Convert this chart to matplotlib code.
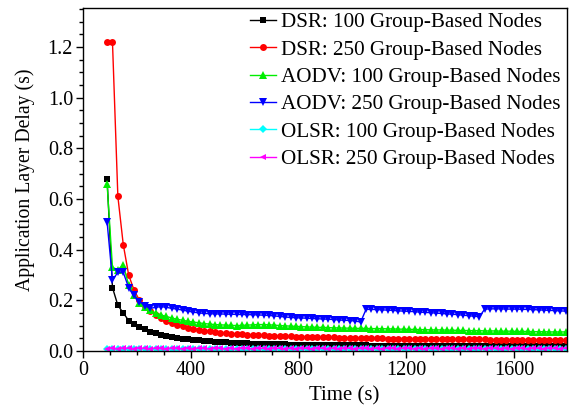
import numpy as np
import matplotlib
matplotlib.use("Agg")
import matplotlib.pyplot as plt
from matplotlib.ticker import MultipleLocator, FormatStrFormatter

plt.rcParams['font.family'] = ['Liberation Serif', 'DejaVu Serif']

# sample times (s)
time_s = np.arange(90, 1800, 20)

dsr_100 = [0.68, 0.25, 0.18, 0.15, 0.12, 0.105, 0.095, 0.085, 0.076, 0.069,
           0.063, 0.058, 0.054, 0.051, 0.048, 0.046, 0.044, 0.042, 0.040, 0.038,
           0.036, 0.035, 0.034, 0.033, 0.032, 0.031, 0.030, 0.029, 0.029, 0.028,
           0.027, 0.027, 0.026, 0.026, 0.025, 0.025, 0.025, 0.024, 0.024, 0.024,
           0.023, 0.023, 0.023, 0.023, 0.022, 0.022, 0.022, 0.022, 0.022, 0.021,
           0.021, 0.021, 0.021, 0.021, 0.021, 0.020, 0.020, 0.020, 0.020, 0.020,
           0.020, 0.020, 0.020, 0.019, 0.019, 0.019, 0.019, 0.019, 0.019, 0.019,
           0.019, 0.019, 0.019, 0.018, 0.018, 0.018, 0.018, 0.018, 0.018, 0.018,
           0.018, 0.018, 0.018, 0.018, 0.018, 0.018]

dsr_250 = [1.22, 1.22, 0.61, 0.42, 0.30, 0.24, 0.20, 0.176, 0.157, 0.142,
           0.130, 0.119, 0.111, 0.104, 0.098, 0.092, 0.088, 0.084, 0.080, 0.077,
           0.074, 0.072, 0.070, 0.068, 0.067, 0.065, 0.064, 0.063, 0.062, 0.061,
           0.060, 0.059, 0.058, 0.058, 0.057, 0.056, 0.056, 0.055, 0.055, 0.054,
           0.054, 0.053, 0.053, 0.052, 0.052, 0.052, 0.051, 0.051, 0.051, 0.050,
           0.050, 0.050, 0.049, 0.049, 0.049, 0.049, 0.048, 0.048, 0.048, 0.048,
           0.047, 0.047, 0.047, 0.047, 0.047, 0.046, 0.046, 0.046, 0.046, 0.046,
           0.046, 0.045, 0.045, 0.045, 0.045, 0.045, 0.045, 0.044, 0.044, 0.044,
           0.044, 0.044, 0.044, 0.044, 0.043, 0.043]

aodv_100 = [0.66, 0.33, 0.32, 0.34, 0.26, 0.22, 0.19, 0.172, 0.160, 0.150,
            0.142, 0.136, 0.130, 0.125, 0.121, 0.117, 0.114, 0.111, 0.108, 0.106,
            0.104, 0.103, 0.102, 0.101, 0.100, 0.101, 0.102, 0.103, 0.104, 0.104,
            0.103, 0.102, 0.100, 0.099, 0.098, 0.097, 0.096, 0.095, 0.094, 0.093,
            0.093, 0.092, 0.091, 0.091, 0.090, 0.090, 0.089, 0.089, 0.089, 0.088,
            0.088, 0.088, 0.087, 0.087, 0.086, 0.086, 0.085, 0.085, 0.084, 0.084,
            0.083, 0.083, 0.083, 0.082, 0.082, 0.081, 0.081, 0.080, 0.080, 0.080,
            0.079, 0.079, 0.079, 0.078, 0.078, 0.078, 0.077, 0.077, 0.077, 0.076,
            0.076, 0.076, 0.075, 0.075, 0.075, 0.075]

aodv_250 = [0.51, 0.28, 0.31, 0.31, 0.25, 0.22, 0.195, 0.178, 0.168, 0.172,
            0.175, 0.172, 0.168, 0.165, 0.161, 0.157, 0.153, 0.150, 0.148, 0.147,
            0.146, 0.146, 0.145, 0.145, 0.144, 0.144, 0.143, 0.143, 0.142, 0.141,
            0.140, 0.138, 0.136, 0.134, 0.132, 0.131, 0.130, 0.129, 0.128, 0.127,
            0.126, 0.125, 0.124, 0.122, 0.121, 0.120, 0.118, 0.114, 0.164, 0.164,
            0.163, 0.162, 0.161, 0.160, 0.158, 0.157, 0.156, 0.155, 0.153, 0.152,
            0.151, 0.149, 0.148, 0.146, 0.145, 0.143, 0.141, 0.139, 0.137, 0.135,
            0.165, 0.166, 0.166, 0.166, 0.165, 0.165, 0.165, 0.164, 0.164, 0.163,
            0.162, 0.161, 0.160, 0.159, 0.158, 0.157]

olsr_100 = [0.006, 0.007, 0.006, 0.007, 0.007, 0.006, 0.007, 0.006, 0.007, 0.007,
            0.006, 0.007, 0.007, 0.006, 0.007, 0.007, 0.006, 0.007, 0.007, 0.006,
            0.007, 0.006, 0.007, 0.007, 0.006, 0.007, 0.007, 0.006, 0.007, 0.006,
            0.007, 0.007, 0.006, 0.007, 0.007, 0.006, 0.007, 0.006, 0.007, 0.007,
            0.006, 0.007, 0.007, 0.006, 0.007, 0.007, 0.006, 0.007, 0.006, 0.007,
            0.007, 0.006, 0.007, 0.007, 0.006, 0.007, 0.006, 0.007, 0.007, 0.006,
            0.007, 0.007, 0.006, 0.007, 0.006, 0.007, 0.007, 0.006, 0.007, 0.007,
            0.006, 0.007, 0.006, 0.007, 0.007, 0.006, 0.007, 0.007, 0.006, 0.007,
            0.006, 0.007, 0.007, 0.006, 0.007, 0.007]

olsr_250 = [0.009, 0.010, 0.009, 0.010, 0.010, 0.009, 0.010, 0.010, 0.009, 0.010,
            0.010, 0.009, 0.010, 0.010, 0.009, 0.010, 0.009, 0.010, 0.010, 0.009,
            0.010, 0.010, 0.009, 0.010, 0.009, 0.010, 0.010, 0.009, 0.010, 0.010,
            0.009, 0.010, 0.010, 0.009, 0.010, 0.009, 0.010, 0.010, 0.009, 0.010,
            0.010, 0.009, 0.010, 0.009, 0.010, 0.010, 0.009, 0.010, 0.010, 0.009,
            0.010, 0.009, 0.010, 0.010, 0.009, 0.010, 0.010, 0.009, 0.010, 0.009,
            0.010, 0.010, 0.009, 0.010, 0.010, 0.009, 0.010, 0.009, 0.010, 0.010,
            0.009, 0.010, 0.010, 0.009, 0.010, 0.009, 0.010, 0.010, 0.009, 0.010,
            0.010, 0.009, 0.010, 0.010, 0.009, 0.010]

series = [
    ("DSR: 100 Group-Based Nodes", dsr_100, "#000000", "s", 4.5),
    ("DSR: 250 Group-Based Nodes", dsr_250, "#ff0000", "o", 5.0),
    ("AODV: 100 Group-Based Nodes", aodv_100, "#00ee00", "^", 5.5),
    ("AODV: 250 Group-Based Nodes", aodv_250, "#0000ff", "v", 5.5),
    ("OLSR: 100 Group-Based Nodes", olsr_100, "#00ffff", "D", 4.0),
    ("OLSR: 250 Group-Based Nodes", olsr_250, "#ff00ff", "<", 5.0),
]

fig = plt.figure(figsize=(5.71, 4.09), dpi=100)
ax = fig.add_axes([0.145, 0.142, 0.848, 0.838])

for label, vals, color, marker, ms in series:
    ax.plot(time_s, vals, color=color, marker=marker, markersize=ms,
            linewidth=1.0, markeredgewidth=0, label=label)

ax.set_xlim(0, 1795)
ax.set_ylim(0, 1.353)
ax.xaxis.set_major_locator(MultipleLocator(400))
ax.xaxis.set_minor_locator(MultipleLocator(100))
ax.yaxis.set_major_locator(MultipleLocator(0.2))
ax.yaxis.set_minor_locator(MultipleLocator(0.05))
ax.yaxis.set_major_formatter(FormatStrFormatter('%.1f'))
ax.tick_params(which='major', direction='out', length=5, width=1, labelsize=14.5,
               top=False, right=False, pad=2)
ax.tick_params(which='minor', direction='out', length=3, width=1,
               top=False, right=False)
for sp in ax.spines.values():
    sp.set_linewidth(1.0)

ax.set_xlabel("Time (s)", fontsize=15, va='top')
ax.xaxis.set_label_coords(0.539, -0.102)
ax.set_ylabel("Application Layer Delay (s)", fontsize=14.2, labelpad=9)

ax.legend(loc='upper right', bbox_to_anchor=(0.995, 1.0), frameon=False,
          fontsize=15.2, handlelength=1.2, handletextpad=0.25,
          labelspacing=0.36, borderaxespad=0.0, borderpad=0.2)

fig.savefig("out.png", dpi=100)
